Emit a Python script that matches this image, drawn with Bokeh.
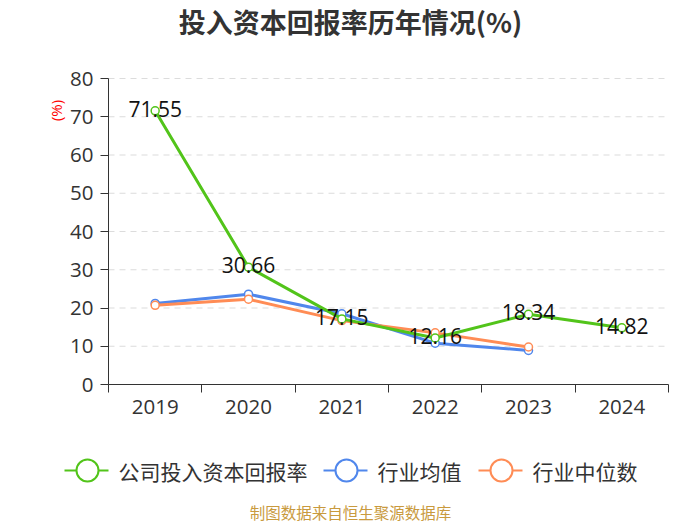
import math
from bokeh.plotting import figure
from bokeh.models import ColumnDataSource, FixedTicker, Range1d, Label
from bokeh.core.properties import value
from bokeh.embed import file_html
from bokeh.resources import INLINE

# ---------------- data ----------------
years = ["2019", "2020", "2021", "2022", "2023", "2024"]
company = [71.55, 30.66, 17.15, 12.16, 18.34, 14.82]
industry_avg = [21.2, 23.6, 18.5, 10.8, 8.9]
industry_median = [20.7, 22.3, 16.7, 13.5, 9.8]
y_ticks = [0, 10, 20, 30, 40, 50, 60, 70, 80]
series_names = ["公司投入资本回报率", "行业均值", "行业中位数"]
title_text = "投入资本回报率历年情况(%)"
source_text = "制图数据来自恒生聚源数据库"
unit_text = "(%)"

GREEN = "#52c41a"
BLUE = "#5087ec"
ORANGE = "#ff8c55"
NUM_FONT = "Open Sans"
CJK_FONT = "Noto Sans CJK SC"

# ---------------- layout geometry (pixels) ----------------
W, H = 684, 525
PLOT_L, PLOT_R, PLOT_T, PLOT_B = 108, 668, 78, 384
NX = len(years)
YMAX = y_ticks[-1]
SX = (PLOT_R - PLOT_L) / NX
SY = (PLOT_B - PLOT_T) / YMAX


def dx(px):
    return (px - PLOT_L) / SX


def dy(py):
    return (PLOT_B - py) / SY


p = figure(width=W, height=H, output_backend="svg", toolbar_location=None,
           x_range=Range1d(dx(0), dx(W)), y_range=Range1d(dy(H), dy(0)),
           min_border=0, min_border_left=0, min_border_right=0,
           min_border_top=0, min_border_bottom=0)
p.title.visible = False
p.outline_line_color = None
p.background_fill_color = "white"
p.border_fill_color = "white"
p.grid.visible = False

# dashed horizontal grid lines across the category span
gl = y_ticks[1:]
p.segment(x0=[0] * len(gl), y0=gl, x1=[NX] * len(gl), y1=gl,
          line_color="#dcdcdc", line_width=1.2, line_dash="6 5")

# y axis at x = 0
p.yaxis.fixed_location = 0
p.yaxis.bounds = (0, YMAX)
p.yaxis.ticker = FixedTicker(ticks=y_ticks)
p.yaxis.axis_line_color = "#333333"
p.yaxis.major_tick_line_color = "#333333"
p.yaxis.major_tick_out = 8
p.yaxis.major_tick_in = 0
p.yaxis.minor_tick_line_color = None
p.yaxis.major_label_text_font = NUM_FONT
p.yaxis.major_label_text_font_size = "20.5px"
p.yaxis.major_label_text_color = "#333333"
p.yaxis.major_label_standoff = 7

# x axis at y = 0: labels at category centres, ticks at boundaries
xs = [i + 0.5 for i in range(NX)]
p.xaxis.fixed_location = 0
p.xaxis.bounds = (0, NX)
p.xaxis.ticker = FixedTicker(ticks=xs, minor_ticks=list(range(NX + 1)))
p.xaxis.major_label_overrides = {x: y for x, y in zip(xs, years)}
p.xaxis.major_tick_line_color = None
p.xaxis.minor_tick_line_color = "#333333"
p.xaxis.minor_tick_out = 8
p.xaxis.minor_tick_in = 0
p.xaxis.axis_line_color = "#333333"
p.xaxis.major_label_text_font = NUM_FONT
p.xaxis.major_label_text_font_size = "20.5px"
p.xaxis.major_label_text_color = "#333333"
p.xaxis.major_label_standoff = 7

# series
src_c = ColumnDataSource(dict(x=xs, y=company, t=[f"{v:.2f}" for v in company]))
src_a = ColumnDataSource(dict(x=xs[:len(industry_avg)], y=industry_avg))
src_m = ColumnDataSource(dict(x=xs[:len(industry_median)], y=industry_median))

for src, col in ((src_a, BLUE), (src_m, ORANGE), (src_c, GREEN)):
    p.line("x", "y", source=src, line_color=col, line_width=3)
    p.scatter("x", "y", source=src, size=8, marker="circle", fill_color="white",
              line_color=col, line_width=1.5)

p.text("x", "y", text="t", source=src_c, text_align="center", text_baseline="middle",
       y_offset=-2, text_font=value(NUM_FONT), text_font_size="21px", text_color="#111111")

# ---------------- texts ----------------
p.add_layout(Label(x=350, y=H - 21, x_units="screen", y_units="screen", text=title_text,
                   text_align="center", text_baseline="middle", text_font=CJK_FONT,
                   text_font_size="27px", text_font_style="bold", text_color="#333333"))

p.add_layout(Label(x=55, y=H - 110, x_units="screen", y_units="screen", text=unit_text,
                   angle=math.pi / 2, text_align="center", text_baseline="middle",
                   text_font=NUM_FONT, text_font_size="15px", text_color="red"))

p.add_layout(Label(x=350, y=H - 511, x_units="screen", y_units="screen", text=source_text,
                   text_align="center", text_baseline="middle", text_font=CJK_FONT,
                   text_font_size="15.5px", text_color="#c99a3e"))

# ---------------- legend ----------------
LEG_Y = 470
leg_starts = [64, 323, 478]
colors = [GREEN, BLUE, ORANGE]
for x0, col, name in zip(leg_starts, colors, series_names):
    p.segment([dx(x0)], [dy(LEG_Y)], [dx(x0 + 44)], [dy(LEG_Y)], line_color=col, line_width=2)
    p.scatter([dx(x0 + 23)], [dy(LEG_Y)], size=22, marker="circle", fill_color="white",
              line_color=col, line_width=2)
    p.add_layout(Label(x=x0 + 54, y=H - LEG_Y, x_units="screen", y_units="screen", text=name,
                       text_align="left", text_baseline="middle", text_font=CJK_FONT,
                       text_font_size="21px", text_color="#333333"))

open("out.html", "w").write(file_html(p, INLINE))
